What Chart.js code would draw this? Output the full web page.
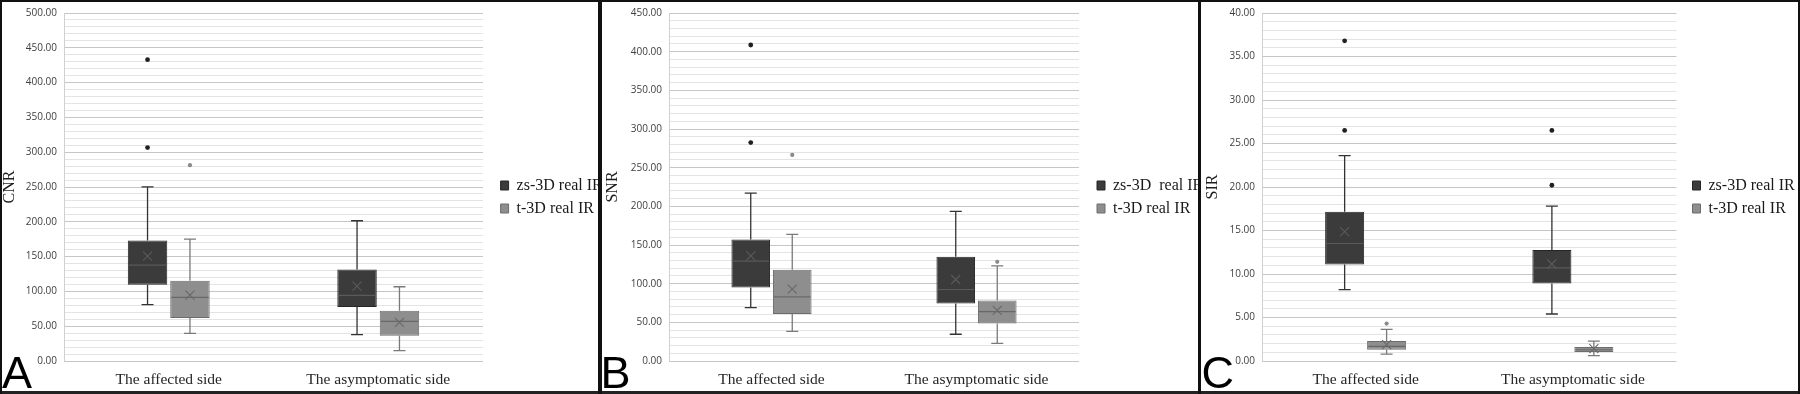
<!DOCTYPE html>
<html><head><meta charset="utf-8">
<script src="https://cdn.jsdelivr.net/npm/chart.js@4.4.1/dist/chart.umd.min.js"></script>
<style>
html,body{margin:0;padding:0;background:#fff;}
#wrap{position:relative;width:1800px;height:394px;overflow:hidden;background:#fff;}
canvas{position:absolute;top:0;}
.rule{position:absolute;background:#111;}
.lbl{position:absolute;font-family:"Liberation Sans",Arial,sans-serif;font-size:45px;line-height:45px;color:#000;top:350px;}
</style></head><body>
<div id="wrap">
<canvas id="cA" width="600" height="394" style="left:0px"></canvas>
<canvas id="cB" width="600" height="394" style="left:600px"></canvas>
<canvas id="cC" width="600" height="394" style="left:1200px"></canvas>
<div class="lbl" style="left:2px">A</div>
<div class="lbl" style="left:600.5px">B</div>
<div class="lbl" style="left:1201.5px">C</div>
<div class="rule" style="left:0;top:0;width:1800px;height:2px"></div>
<div class="rule" style="left:0;top:391px;width:1800px;height:3px;background:#222"></div>
<div class="rule" style="left:0;top:0;width:2px;height:394px"></div>
<div class="rule" style="left:1798px;top:0;width:2px;height:394px"></div>
<div class="rule" style="left:598px;top:0;width:4px;height:394px"></div>
<div class="rule" style="left:1198px;top:0;width:3px;height:394px"></div>
</div>
<script>
// ---------------- DATA ----------------
const categories = ['The affected side', 'The asymptomatic side'];
const seriesNamesAC = ['zs-3D real IR', 't-3D real IR'];
const seriesNamesB = ['zs-3D  real IR', 't-3D real IR'];

// each entry per category: [min, q1, median, q3, max, mean]
const cnrZs = [[80.9, 109.6, 137.8, 173.2, 250.3, 150.7], [37.8, 77.5, 94.3, 131.6, 201.5, 107.7]];
const cnrT  = [[39.7, 61.7, 91.4, 115.3, 175.1, 94.7], [14.8, 36.4, 56.9, 72.3, 106.7, 55.5]];
const cnrZsOutliers = [[433, 306.7], []];
const cnrTOutliers  = [[281.4], []];

const snrZs = [[69.1, 95.0, 129.1, 157.2, 217.2, 136.0], [34.6, 74.3, 92.4, 134.8, 193.5, 105.4]];
const snrT  = [[38.4, 60.9, 82.9, 117.9, 163.7, 92.9], [22.9, 48.4, 63.9, 78.2, 123.1, 65.6]];
const snrZsOutliers = [[408.6, 282.5], []];
const snrTOutliers  = [[266.5], [128.3]];

const sirZs = [[8.2, 11.1, 13.5, 17.15, 23.6, 14.86], [5.4, 8.9, 10.7, 12.76, 17.8, 11.15]];
const sirT  = [[0.8, 1.3, 1.68, 2.29, 3.63, 1.87], [0.61, 1.03, 1.3, 1.6, 2.29, 1.41]];
const sirZsOutliers = [[36.8, 26.5], [26.5, 20.2]];
const sirTOutliers  = [[4.3], []];

// axis ticks (labelled) and minor grid step
const cnrTickLabels = ['0.00','50.00','100.00','150.00','200.00','250.00','300.00','350.00','400.00','450.00','500.00'];
const snrTickLabels = ['0.00','50.00','100.00','150.00','200.00','250.00','300.00','350.00','400.00','450.00'];
const sirTickLabels = ['0.00','5.00','10.00','15.00','20.00','25.00','30.00','35.00','40.00'];
const cnrMinorStep = 10, snrMinorStep = 10, sirMinorStep = 1;

// ---------------- DRAWING ----------------
const boxPlugin = {
  id: 'boxWhisker',
  afterDatasetsDraw(chart) {
    const y = chart.scales.y, ctx = chart.ctx;
    const py = v => y.getPixelForValue(v);
    chart.data.datasets.forEach((ds, d) => {
      const meta = chart.getDatasetMeta(d);
      meta.data.forEach((el, i) => {
        const [mn, q1, med, q3, mx, mean] = ds.stats[i];
        const x = el.x, w = el.width;
        ctx.save();
        ctx.strokeStyle = ds.whiskerColor; ctx.lineWidth = 1.3;
        ctx.beginPath();
        ctx.moveTo(x, py(q3)); ctx.lineTo(x, py(mx));
        ctx.moveTo(x - 6, py(mx)); ctx.lineTo(x + 6, py(mx));
        ctx.moveTo(x, py(q1)); ctx.lineTo(x, py(mn));
        ctx.moveTo(x - 6, py(mn)); ctx.lineTo(x + 6, py(mn));
        ctx.stroke();
        ctx.strokeStyle = ds.medianColor; ctx.lineWidth = 1.1;
        ctx.beginPath(); ctx.moveTo(x - w / 2 + 1, py(med)); ctx.lineTo(x + w / 2 - 1, py(med)); ctx.stroke();
        const s = 4.5, my = py(mean);
        ctx.beginPath();
        ctx.moveTo(x - s, my - s); ctx.lineTo(x + s, my + s);
        ctx.moveTo(x + s, my - s); ctx.lineTo(x - s, my + s);
        ctx.stroke();
        ctx.fillStyle = ds.outlierColor;
        ds.outliers[i].forEach(v => { ctx.beginPath(); ctx.arc(x, py(v), ds.outlierRadius, 0, Math.PI * 2); ctx.fill(); });
        ctx.restore();
      });
    });
  }
};

const serif = '"Liberation Serif", "Times New Roman", serif';
const legendFont = 16, legendBox = 8, legendPad = 7;
const mctx = document.createElement('canvas').getContext('2d');
mctx.font = legendFont + 'px ' + serif;

function makeChart(id, o) {
  const tw = Math.max(...o.names.map(n => mctx.measureText(n).width));
  const legendW = legendPad + legendBox + legendFont / 2 + tw + 10;
  const gap = o.boxLeft - o.right - legendPad;
  const padR = 600 - o.right - gap - legendW;
  const majors = o.tickLabels.map(Number);
  const isMajor = v => majors.some(m => Math.abs(m - v) < 1e-6);
  const yMax = majors[majors.length - 1];
  new Chart(document.getElementById(id), {
    type: 'bar',
    data: {
      labels: categories,
      datasets: [
        { label: o.names[0], data: o.zs.map(s => [s[1], s[3]]), stats: o.zs, outliers: o.zsOut,
          backgroundColor: '#3b3b3b', borderColor: '#262626', borderWidth: 1, borderSkipped: false,
          whiskerColor: '#333333', medianColor: '#5a5a5a', outlierColor: '#202020', outlierRadius: 2.4 },
        { label: o.names[1], data: o.t.map(s => [s[1], s[3]]), stats: o.t, outliers: o.tOut,
          backgroundColor: '#8e8e8e', borderColor: '#6c6c6c', borderWidth: 1, borderSkipped: false,
          whiskerColor: '#7a7a7a', medianColor: '#686868', outlierColor: '#8a8a8a', outlierRadius: 2.1 }
      ]
    },
    options: {
      responsive: false, animation: false, devicePixelRatio: 1, events: [],
      datasets: { bar: { categoryPercentage: 0.405, barPercentage: 0.93 } },
      layout: { padding: { left: 0, top: 12.5, bottom: 0, right: padR } },
      scales: {
        x: {
          grid: { display: false, drawTicks: false }, border: { display: false },
          afterFit(s) { s.height = 394 - 361; },
          ticks: { padding: 9.3, color: '#262626', font: { family: serif, size: 15.5 } }
        },
        y: {
          min: 0, max: yMax,
          afterFit(s) { s.width = o.left; },
          ticks: { stepSize: o.minor, autoSkip: false, maxTicksLimit: 1000, padding: 7, color: '#3e3e3e',
                   font: { family: '"Open Sans", "Liberation Sans", sans-serif', size: 10 },
                   callback: v => isMajor(v) ? o.tickLabels[majors.findIndex(m => Math.abs(m - v) < 1e-6)] : '' },
          grid: { drawTicks: false, lineWidth: 1,
                  color: c => (c.tick && isMajor(c.tick.value)) ? '#c6c6c6' : '#e4e4e4' },
          border: { display: true, color: '#d0d0d0' },
          title: { display: true, text: o.title, color: '#1e1e1e', font: { family: serif, size: 16 },
                   padding: { top: o.titlePad, bottom: 0 } }
        },
        y2: {
          position: 'right', display: true,
          grid: { display: false }, border: { display: false }, ticks: { display: false },
          afterFit(s) { s.width = gap; }
        }
      },
      plugins: {
        tooltip: { enabled: false },
        legend: {
          position: 'right', fullSize: false, maxWidth: 300,
          title: { display: true, text: ' ', padding: 4, font: { size: 10, lineHeight: 1.2 } },
          labels: { boxWidth: legendBox, boxHeight: 9, padding: legendPad, color: '#1a1a1a',
                    font: { family: serif, size: legendFont } }
        }
      }
    },
    plugins: [boxPlugin]
  });
}

makeChart('cA', { names: seriesNamesAC, zs: cnrZs, t: cnrT, zsOut: cnrZsOutliers, tOut: cnrTOutliers,
  tickLabels: cnrTickLabels, minor: cnrMinorStep, title: 'CNR', left: 64, right: 483, boxLeft: 500.6, titlePad: 0.4 });
makeChart('cB', { names: seriesNamesB, zs: snrZs, t: snrT, zsOut: snrZsOutliers, tOut: snrTOutliers,
  tickLabels: snrTickLabels, minor: snrMinorStep, title: 'SNR', left: 69, right: 479, boxLeft: 497, titlePad: 2.8 });
makeChart('cC', { names: seriesNamesAC, zs: sirZs, t: sirT, zsOut: sirZsOutliers, tOut: sirTOutliers,
  tickLabels: sirTickLabels, minor: sirMinorStep, title: 'SIR', left: 62, right: 476.5, boxLeft: 492.5, titlePad: 3.6 });
</script>
</body></html>
